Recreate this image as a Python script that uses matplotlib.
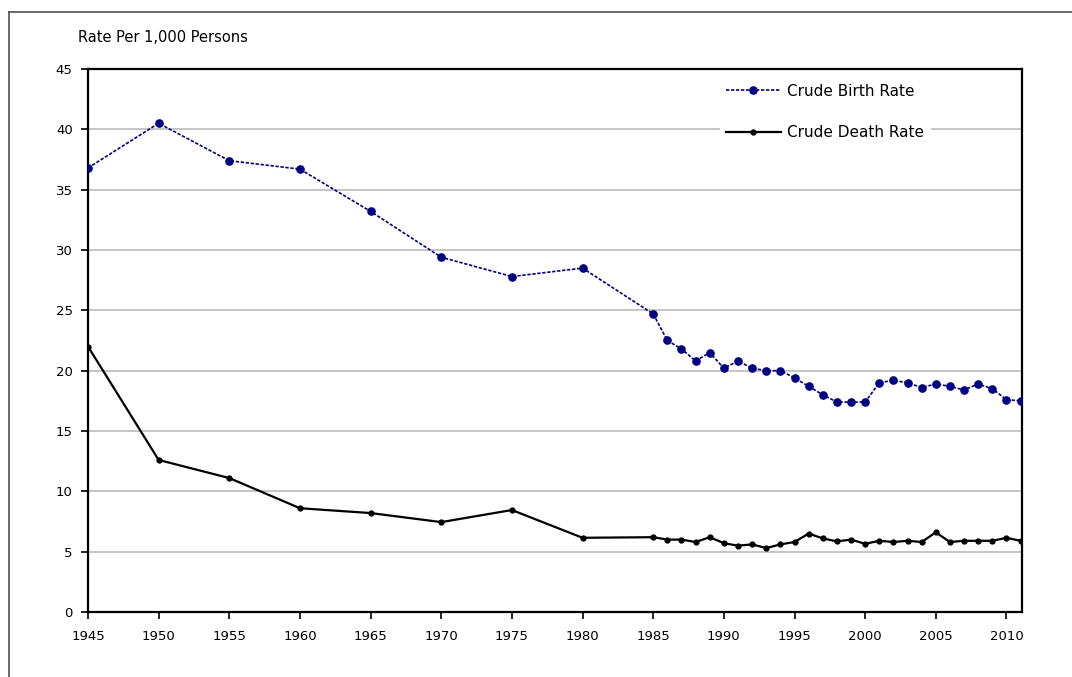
import numpy as np
import matplotlib
matplotlib.use("Agg")
import matplotlib.pyplot as plt
from matplotlib.lines import Line2D

# dati
anni = [1945, 1950, 1955, 1960, 1965, 1970, 1975, 1980,
        1985, 1986, 1987, 1988, 1989, 1990, 1991, 1992, 1993, 1994,
        1995, 1996, 1997, 1998, 1999, 2000, 2001, 2002, 2003, 2004,
        2005, 2006, 2007, 2008, 2009, 2010, 2011]

natalita = [36.8, 40.5, 37.4, 36.7, 33.2, 29.4, 27.8, 28.5,
            24.7, 22.5, 21.8, 20.8, 21.5, 20.2, 20.8, 20.2, 20.0, 20.0,
            19.4, 18.7, 18.0, 17.4, 17.4, 17.4, 19.0, 19.2, 19.0, 18.6,
            18.9, 18.7, 18.4, 18.9, 18.5, 17.6, 17.5]

mortalita = [22.0, 12.6, 11.1, 8.6, 8.2, 7.45, 8.45, 6.15,
             6.2, 6.0, 6.0, 5.8, 6.2, 5.7, 5.5, 5.6, 5.3, 5.6,
             5.8, 6.5, 6.1, 5.85, 6.0, 5.65, 5.9, 5.8, 5.9, 5.8,
             6.6, 5.8, 5.9, 5.9, 5.9, 6.15, 5.9]

etichette = ["Crude Birth Rate", "Crude Death Rate"]
titolo_y = "Rate Per 1,000 Persons"

W, H = 1072, 677
fig = plt.figure(figsize=(W / 100, H / 100), dpi=100)
ax = fig.add_axes([88 / W, 1 - 612 / H, (1022 - 88) / W, (612 - 69) / H])

# cornice esterna (ritagliata)
fig.add_artist(Line2D([9 / W, 9 / W], [0, 1 - 12 / H], color="#505050", lw=1.2, transform=fig.transFigure))
fig.add_artist(Line2D([9 / W, 1], [1 - 12 / H, 1 - 12 / H], color="#505050", lw=1.2, transform=fig.transFigure))

for v in range(5, 45, 5):
    ax.axhline(v, color="#c0c0c0", lw=1.3, zorder=0)

ax.plot(anni, natalita, color="#000080", lw=1.2, ls=(0, (2, 1)),
        marker="o", ms=5.2, label=etichette[0], zorder=3)
ax.plot(anni, mortalita, color="black", lw=1.6,
        marker="o", ms=3.5, label=etichette[1], zorder=3)

ax.set_xlim(1945, 2011.1)
ax.set_ylim(0, 45)
ax.set_xticks(range(1945, 2011, 5))
ax.set_yticks(range(0, 46, 5))
ax.tick_params(axis="both", direction="out", length=5, width=1.2, labelsize=9.5, colors="black")
ax.tick_params(axis="x", pad=8)
ax.tick_params(axis="y", pad=6)
for s in ax.spines.values():
    s.set_linewidth(1.6)
    s.set_color("black")

fig.text(78 / W, 1 - 37 / H, titolo_y, fontsize=10.5, va="center", ha="left")

leg = ax.legend(loc="upper left", bbox_to_anchor=((712 - 88) / (1022 - 88), 1 - (70 - 69) / (612 - 69)),
                frameon=True, fontsize=11, handlelength=3.6, labelspacing=1.75,
                borderpad=0.4, handletextpad=0.4)
leg.get_frame().set_edgecolor("white")
leg.get_frame().set_facecolor("white")
leg.get_frame().set_alpha(1)

fig.savefig("out.png", dpi=100)
